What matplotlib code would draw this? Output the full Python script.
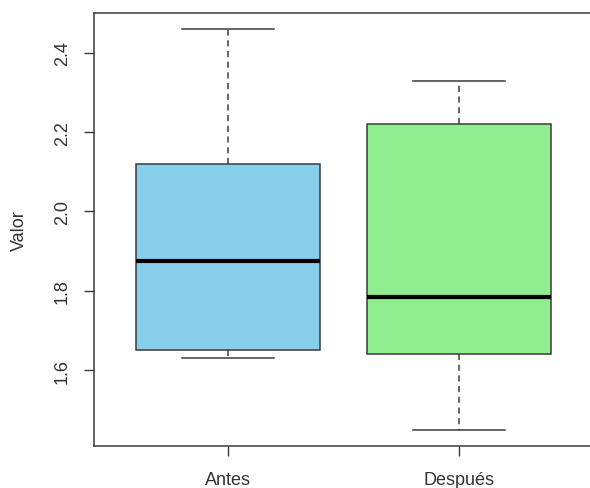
import matplotlib
matplotlib.use("Agg")
import matplotlib.pyplot as plt

plt.rcParams['font.family'] = ['Liberation Sans', 'DejaVu Sans']

# Five-number summaries per group
groups = ["Antes", "Después"]
whisker_low = [1.63, 1.45]
q1 = [1.65, 1.64]
medians = [1.875, 1.785]
q3 = [2.12, 2.22]
whisker_high = [2.46, 2.33]
fill_colors = ["#87CEEB", "#90EE90"]

y_ticks = [1.6, 1.8, 2.0, 2.2, 2.4]
y_tick_labels = ["1.6", "1.8", "2.0", "2.2", "2.4"]
y_label = "Valor"

edge = "#3a3a3a"
text_color = "#333333"

fig = plt.figure(figsize=(5.9, 4.89), dpi=100)
ax = fig.add_axes([94 / 590, 42.3 / 489, (593 - 94) / 590, (446.7 - 14) / 489])

stats = []
for i, name in enumerate(groups):
    stats.append(dict(label=name, whislo=whisker_low[i], q1=q1[i], med=medians[i],
                      q3=q3[i], whishi=whisker_high[i], fliers=[]))

bp = ax.bxp(stats, positions=[1, 2], widths=0.8, capwidths=0.4,
            showfliers=False, patch_artist=True,
            boxprops=dict(edgecolor=edge, linewidth=1.1),
            medianprops=dict(color="black", linewidth=3, solid_capstyle="butt"),
            whiskerprops=dict(color=edge, linewidth=1.1, linestyle=(0, (4, 3))),
            capprops=dict(color=edge, linewidth=1.1))
for patch, c in zip(bp["boxes"], fill_colors):
    patch.set_facecolor(c)

# R-style 4% padding around the data range
lo, hi = min(whisker_low), max(whisker_high)
pad = 0.04 * (hi - lo)
ax.set_ylim(lo - pad, hi + pad)
ax.set_xlim(0.42, 2.58)

ax.set_yticks(y_ticks)
ax.set_yticklabels(y_tick_labels, rotation=90, va="center")
ax.set_xticks([1, 2])
ax.set_xticklabels(groups)
ax.tick_params(axis="both", direction="out", length=7.5, width=1.0,
               color=edge, labelcolor=text_color, labelsize=13)
ax.tick_params(axis="y", pad=9)
ax.tick_params(axis="x", pad=10.5)

ax.set_ylabel(y_label, fontsize=13, color=text_color, labelpad=19)

for s in ax.spines.values():
    s.set_color(edge)
    s.set_linewidth(1.1)

fig.savefig("out.png", dpi=100)
